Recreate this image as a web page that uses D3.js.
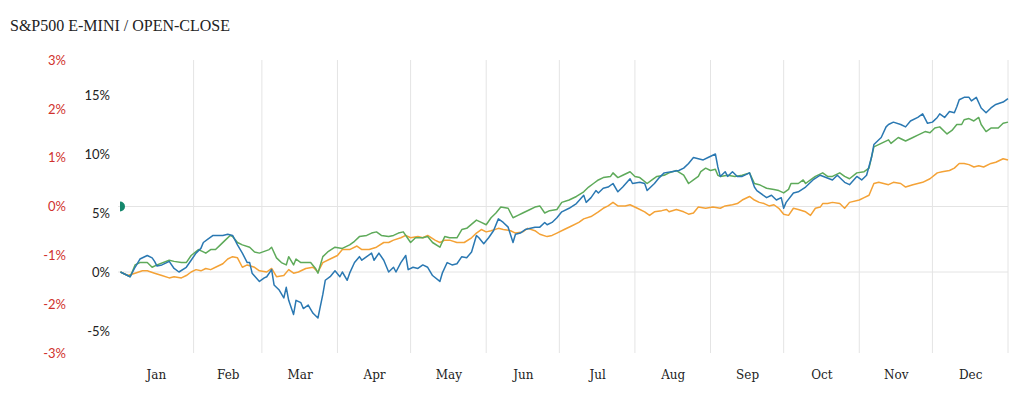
<!DOCTYPE html>
<html>
<head>
<meta charset="utf-8">
<script src="https://cdn.jsdelivr.net/npm/d3@7"></script>
<style>
  body { margin: 0; background: #fff; }
  .title { font-family: "Liberation Serif", serif; font-size: 16px; fill: #222; }
  .month text { font-family: "DejaVu Serif", serif; font-size: 12px; fill: #222; }
  .ret text { font-family: Lato, sans-serif; font-size: 13px; fill: #222; }
  .oc text { font-family: Lato, sans-serif; font-size: 13px; fill: #d0312d; }
  .grid line { stroke: #e4e4e4; stroke-width: 1; }
</style>
</head>
<body>
<div id="chart"></div>
<script>
// cumulative open-close return, % (day of year, value)
let blueSeries = [[1,0],[5,-0.4],[7,0.4],[9,1.1],[12,1.4],[14,1.2],[15,0.9],[16,0.5],[18,0.6],[20,0.8],[21,0.9],[23,0.3],[25,0],[28,0.4],[30,1.0],[32,1.6],[34,2.0],[35,2.5],[37,2.8],[39,3.1],[41,3.1],[43,3.1],[45,3.2],[47,3.1],[49,2.3],[51,1.6],[53,0.8],[54,0.8],[55,-0.1],[58,-0.8],[60,-0.5],[61,-0.4],[63,0.2],[64,-1.1],[66,-1.5],[68,-2.2],[69,-1.3],[70,-2.4],[72,-3.6],[73,-2.4],[75,-2.6],[76,-3.1],[78,-2.8],[80,-3.5],[82,-3.9],[84,-1.9],[85,-0.7],[87,-0.4],[89,0.1],[91,-0.4],[92,0],[94,-0.7],[95,-0.1],[97,0.8],[99,1.3],[100,1.0],[102,1.3],[104,1.6],[105,1.0],[107,1.6],[109,1.0],[111,0],[113,0.4],[114,0],[116,0.8],[118,1.4],[119,0.2],[121,0.4],[123,0.3],[125,0.6],[127,0.4],[129,-0.3],[132,-0.8],[133,-0.1],[135,0.8],[137,0.6],[139,0.7],[141,1.3],[143,1.2],[145,1.7],[147,3.1],[148,2.9],[150,2.4],[152,2.9],[154,3.5],[156,4.5],[158,4.2],[160,3.8],[162,2.5],[163,3.2],[165,3.3],[167,3.6],[171,3.8],[173,3.8],[175,4.2],[176,4.0],[178,4.2],[180,4.6],[182,5.1],[185,5.4],[188,5.8],[191,6.5],[192,5.9],[194,6.3],[196,6.9],[197,6.7],[199,7.1],[201,7.2],[203,7.5],[205,6.8],[207,7.2],[210,7.9],[211,7.5],[214,7.6],[216,7.5],[217,6.9],[220,7.5],[222,8.0],[224,8.4],[227,8.5],[230,8.6],[232,8.8],[234,9.2],[236,9.7],[238,9.6],[240,9.5],[242,9.7],[245,10.0],[246,8.9],[247,8.1],[249,8.5],[250,8.1],[252,8.5],[254,8.1],[256,8.1],[259,8.4],[261,7.2],[262,6.9],[266,6.3],[268,6.5],[270,6.1],[272,6.3],[273,5.4],[274,5.9],[277,6.7],[279,6.8],[282,7.2],[285,7.8],[288,8.2],[293,7.8],[295,8.2],[298,7.6],[300,7.4],[303,8.1],[305,7.8],[307,8.2],[309,9.7],[310,10.8],[313,11.4],[315,12.3],[316,12.5],[318,12.7],[321,12.5],[323,12.3],[325,12.8],[328,13.1],[330,13.4],[332,12.6],[334,12.7],[336,13.1],[337,13.4],[339,13.1],[341,13.6],[343,13.5],[344,14.0],[345,14.6],[347,14.8],[349,14.8],[350,14.5],[352,14.8],[354,13.9],[356,13.5],[358,13.9],[360,14.2],[363,14.4],[365,14.7]]

let greenSeries = [[1,0],[5,-0.4],[7,0.6],[9,0.8],[12,0.8],[14,0.4],[16,0.6],[21,1.0],[23,0.9],[26,0.8],[28,0.8],[30,1.4],[33,1.9],[35,1.7],[36,1.6],[38,1.9],[40,1.9],[42,2.3],[44,2.7],[46,3.1],[47,3.0],[49,2.5],[51,2.3],[54,2.1],[56,1.7],[58,1.6],[62,1.9],[63,2.1],[65,1.2],[67,0.8],[69,0.6],[70,1.3],[72,0.6],[73,1.1],[75,0.8],[77,0.8],[79,0.8],[81,0.3],[82,-0.1],[84,1.3],[86,1.7],[89,2.1],[92,2.0],[95,2.3],[97,2.6],[99,3.0],[102,3.1],[104,3.3],[106,3.4],[108,3.1],[111,3.0],[113,3.1],[115,3.3],[117,3.4],[120,2.5],[122,2.9],[125,2.9],[127,3.0],[129,2.5],[132,2.1],[134,3.0],[136,2.9],[139,2.9],[141,3.6],[143,3.7],[147,4.4],[149,4.2],[151,4.0],[153,4.6],[155,5.0],[157,5.5],[160,5.4],[162,4.6],[164,4.8],[166,5.0],[169,5.3],[171,5.5],[173,5.6],[175,5.0],[177,5.2],[180,5.3],[182,5.9],[185,6.1],[188,6.4],[191,6.8],[193,7.2],[195,7.5],[197,7.8],[199,8.0],[202,8.1],[203,8.4],[205,8.0],[207,8.2],[210,8.5],[212,8.1],[214,8.0],[217,7.5],[219,7.8],[221,8.1],[224,8.2],[226,8.4],[229,8.6],[232,8.2],[234,7.5],[236,7.8],[238,8.1],[239,8.5],[241,8.8],[243,8.6],[245,8.7],[246,8.2],[247,8.1],[250,8.2],[253,8.1],[256,8.2],[259,8.4],[261,7.5],[263,7.4],[266,7.1],[269,7.0],[271,6.9],[273,6.7],[275,7.0],[276,7.5],[279,7.5],[281,7.8],[282,7.5],[284,7.8],[286,8.1],[289,8.4],[291,8.1],[293,8.1],[296,8.4],[298,8.1],[300,7.9],[303,8.4],[306,8.5],[308,8.8],[309,9.7],[310,10.6],[313,10.9],[316,11.2],[317,10.9],[320,11.4],[323,11.1],[326,11.4],[328,11.6],[331,11.9],[333,11.8],[335,12.2],[337,12.3],[340,11.7],[342,12.0],[344,12.5],[346,12.5],[347,12.9],[349,13.0],[351,12.8],[353,13.1],[354,12.5],[356,11.9],[358,12.2],[361,12.2],[363,12.6],[365,12.7]]

let orangeSeries = [[1,0],[4,-0.3],[7,-0.1],[10,0.1],[12,0.1],[15,-0.1],[18,-0.3],[21,-0.5],[23,-0.4],[26,-0.5],[28,-0.3],[30,0],[32,0.2],[34,0.1],[36,0.3],[38,0.2],[40,0.4],[43,0.7],[45,1.1],[47,1.3],[49,1.2],[51,0.4],[53,0.6],[56,0.4],[58,0.1],[61,0],[63,0.3],[65,-0.4],[68,-0.3],[70,0.2],[72,-0.1],[74,0],[77,0.3],[80,0.4],[82,0],[84,0.8],[87,1.1],[90,1.4],[92,1.9],[95,1.9],[98,2.2],[100,1.9],[103,1.9],[106,2.1],[109,2.5],[111,2.5],[113,2.7],[116,2.9],[118,3.1],[120,2.9],[123,3.0],[125,2.9],[127,3.1],[130,2.7],[132,2.5],[134,2.7],[136,2.7],[139,2.5],[142,2.5],[145,2.9],[147,3.3],[149,3.6],[151,3.4],[153,3.5],[156,3.7],[158,3.6],[161,3.5],[163,3.3],[166,3.4],[168,3.7],[171,3.5],[173,3.2],[176,3.0],[178,3.1],[180,3.3],[183,3.6],[186,3.9],[189,4.2],[191,4.5],[194,4.7],[197,5.1],[199,5.4],[201,5.6],[203,5.9],[205,5.6],[208,5.6],[210,5.7],[213,5.4],[216,5.1],[218,4.8],[220,5.1],[223,5.2],[225,5.3],[226,5.1],[229,5.3],[232,5.1],[234,4.9],[236,5.0],[238,5.5],[241,5.4],[244,5.5],[247,5.4],[249,5.6],[252,5.7],[254,5.8],[256,6.1],[259,6.4],[261,6.1],[263,5.9],[265,5.8],[267,5.6],[269,5.7],[271,5.4],[273,4.9],[275,4.8],[277,5.4],[279,5.3],[282,5.1],[284,4.8],[286,5.4],[288,5.5],[289,5.8],[291,5.8],[293,5.9],[296,5.8],[298,5.4],[300,5.9],[304,6.1],[306,6.3],[308,6.5],[310,7.5],[312,7.6],[314,7.5],[316,7.4],[318,7.6],[321,7.5],[323,7.2],[326,7.4],[330,7.6],[333,7.9],[336,8.4],[338,8.5],[341,8.6],[343,8.8],[345,9.2],[347,9.2],[349,9.1],[351,8.9],[353,9.0],[355,8.9],[358,9.2],[360,9.3],[363,9.6],[365,9.5]]

// latest daily open-close, % (left red axis)
let openClose = [[0, 0]]

let returnTicks = [-5, 0, 5, 10, 15]
let openCloseTicks = [-3, -2, -1, 0, 1, 2, 3]
let year = 2019

let width = 1024
let height = 398
let plotArea = {top: 60, bottom: 353, left: 118, right: 1008}

let svg = d3.select('#chart')
    .append('svg')
    .attr('width', width)
    .attr('height', height)

let dayToDate = (d) => d3.timeDay.offset(new Date(year, 0, 1), d)

let x = d3.scaleTime()
    .domain([new Date(year, 0, 1), new Date(year + 1, 0, 1)])
    .range([plotArea.left, plotArea.right])

let y = d3.scaleLinear()
    .domain([-5, 15])
    .range([331, 95])

let yOC = d3.scaleLinear()
    .domain([-3, 3])
    .range([plotArea.bottom, plotArea.top])

svg.append('text')
    .attr('class', 'title')
    .attr('x', 10)
    .attr('y', 31)
    .text('S&P500 E-MINI / OPEN-CLOSE')

// month grid lines at month starts
let monthStarts = d3.timeMonth.range(new Date(year, 1, 1), new Date(year + 1, 0, 2))
svg.append('g')
    .attr('class', 'grid')
    .selectAll('line')
    .data(monthStarts)
    .enter()
        .append('line')
        .attr('x1', d => x(d)).attr('x2', d => x(d))
        .attr('y1', plotArea.top).attr('y2', plotArea.bottom)

// horizontal zero lines for both axes
svg.append('g')
    .attr('class', 'grid')
    .selectAll('line')
    .data([yOC(0), y(0)])
    .enter()
        .append('line')
        .attr('x1', plotArea.left).attr('x2', plotArea.right)
        .attr('y1', d => d).attr('y2', d => d)

// month labels centred in each month
let monthMids = d3.timeMonth.range(new Date(year, 0, 1), new Date(year + 1, 0, 1))
    .map(d => new Date((+d + +d3.timeMonth.offset(d, 1)) / 2))
svg.append('g')
    .attr('class', 'month')
    .attr('transform', 'translate(0,367)')
    .call(d3.axisBottom(x).tickValues(monthMids).tickFormat(d3.timeFormat('%b')).tickSize(0))
    .call(g => g.select('.domain').remove())

svg.append('g')
    .attr('class', 'ret')
    .attr('transform', 'translate(110,0)')
    .call(d3.axisLeft(y).tickValues(returnTicks).tickFormat(d => d + '%').tickSize(0).tickPadding(0))
    .call(g => g.select('.domain').remove())

svg.append('g')
    .attr('class', 'oc')
    .attr('transform', 'translate(66,0)')
    .call(d3.axisLeft(yOC).tickValues(openCloseTicks).tickFormat(d => d + '%').tickSize(0).tickPadding(0))
    .call(g => g.select('.domain').remove())

svg.append('clipPath')
    .attr('id', 'plot')
    .append('rect')
    .attr('x', plotArea.left + 2).attr('y', plotArea.top)
    .attr('width', plotArea.right - plotArea.left).attr('height', plotArea.bottom - plotArea.top)

let line = d3.line()
    .x(d => x(dayToDate(d[0])))
    .y(d => y(d[1]))

let plot = svg.append('g').attr('clip-path', 'url(#plot)')

let series = [
    {values: orangeSeries, color: '#f4a236'},
    {values: greenSeries, color: '#5eaa5a'},
    {values: blueSeries, color: '#2a78b2'}
]

plot.selectAll('.series')
    .data(series)
    .enter()
        .append('path')
        .attr('class', 'series')
        .attr('d', d => line(d.values))
        .attr('fill', 'none')
        .attr('stroke', d => d.color)
        .attr('stroke-width', 1.5)
        .attr('stroke-linejoin', 'round')

plot.selectAll('.oc-dot')
    .data(openClose)
    .enter()
        .append('circle')
        .attr('class', 'oc-dot')
        .attr('cx', d => x(dayToDate(d[0])) + 2)
        .attr('cy', d => yOC(d[1]))
        .attr('r', 5)
        .attr('fill', '#14876c')
</script>
</body>
</html>
